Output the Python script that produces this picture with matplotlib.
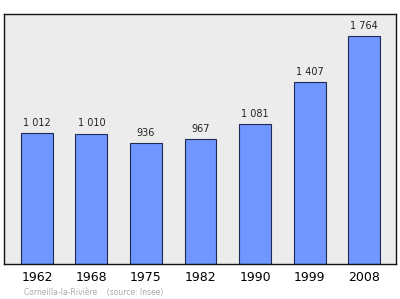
import matplotlib.pyplot as plt

years = ['1962', '1968', '1975', '1982', '1990', '1999', '2008']
population = [1012, 1010, 936, 967, 1081, 1407, 1764]
labels = ['1 012', '1 010', '936', '967', '1 081', '1 407', '1 764']

fig = plt.figure(figsize=(4.0, 2.99), dpi=100)
ax = fig.add_axes([4 / 400, 35 / 299, 392 / 400, 250 / 299])
ax.set_facecolor('#ececec')

x = range(len(years))
bars = ax.bar(x, population, width=0.586, color='#7096ff',
              edgecolor='#1f2a55', linewidth=0.8)

for xi, val, lab in zip(x, population, labels):
    ax.annotate(lab, (xi, val), xytext=(0, 4), textcoords='offset points',
                ha='center', va='bottom', fontsize=7, color='#222222')

ax.set_xlim(-0.604, 6.586)
ax.set_ylim(0, 1935)
ax.set_yticks([])
ax.set_xticks(list(x))
ax.set_xticklabels(years, fontsize=9)
ax.tick_params(axis='x', length=0, pad=5)
for s in ax.spines.values():
    s.set_color('#111111')
    s.set_linewidth(1)

fig.text(24 / 400, 1 - 292 / 299, 'Corneilla-la-Rivière    (source: Insee)',
         fontsize=5.5, color='#aaaaaa', va='center', ha='left')

plt.savefig('out.png', dpi=100)
